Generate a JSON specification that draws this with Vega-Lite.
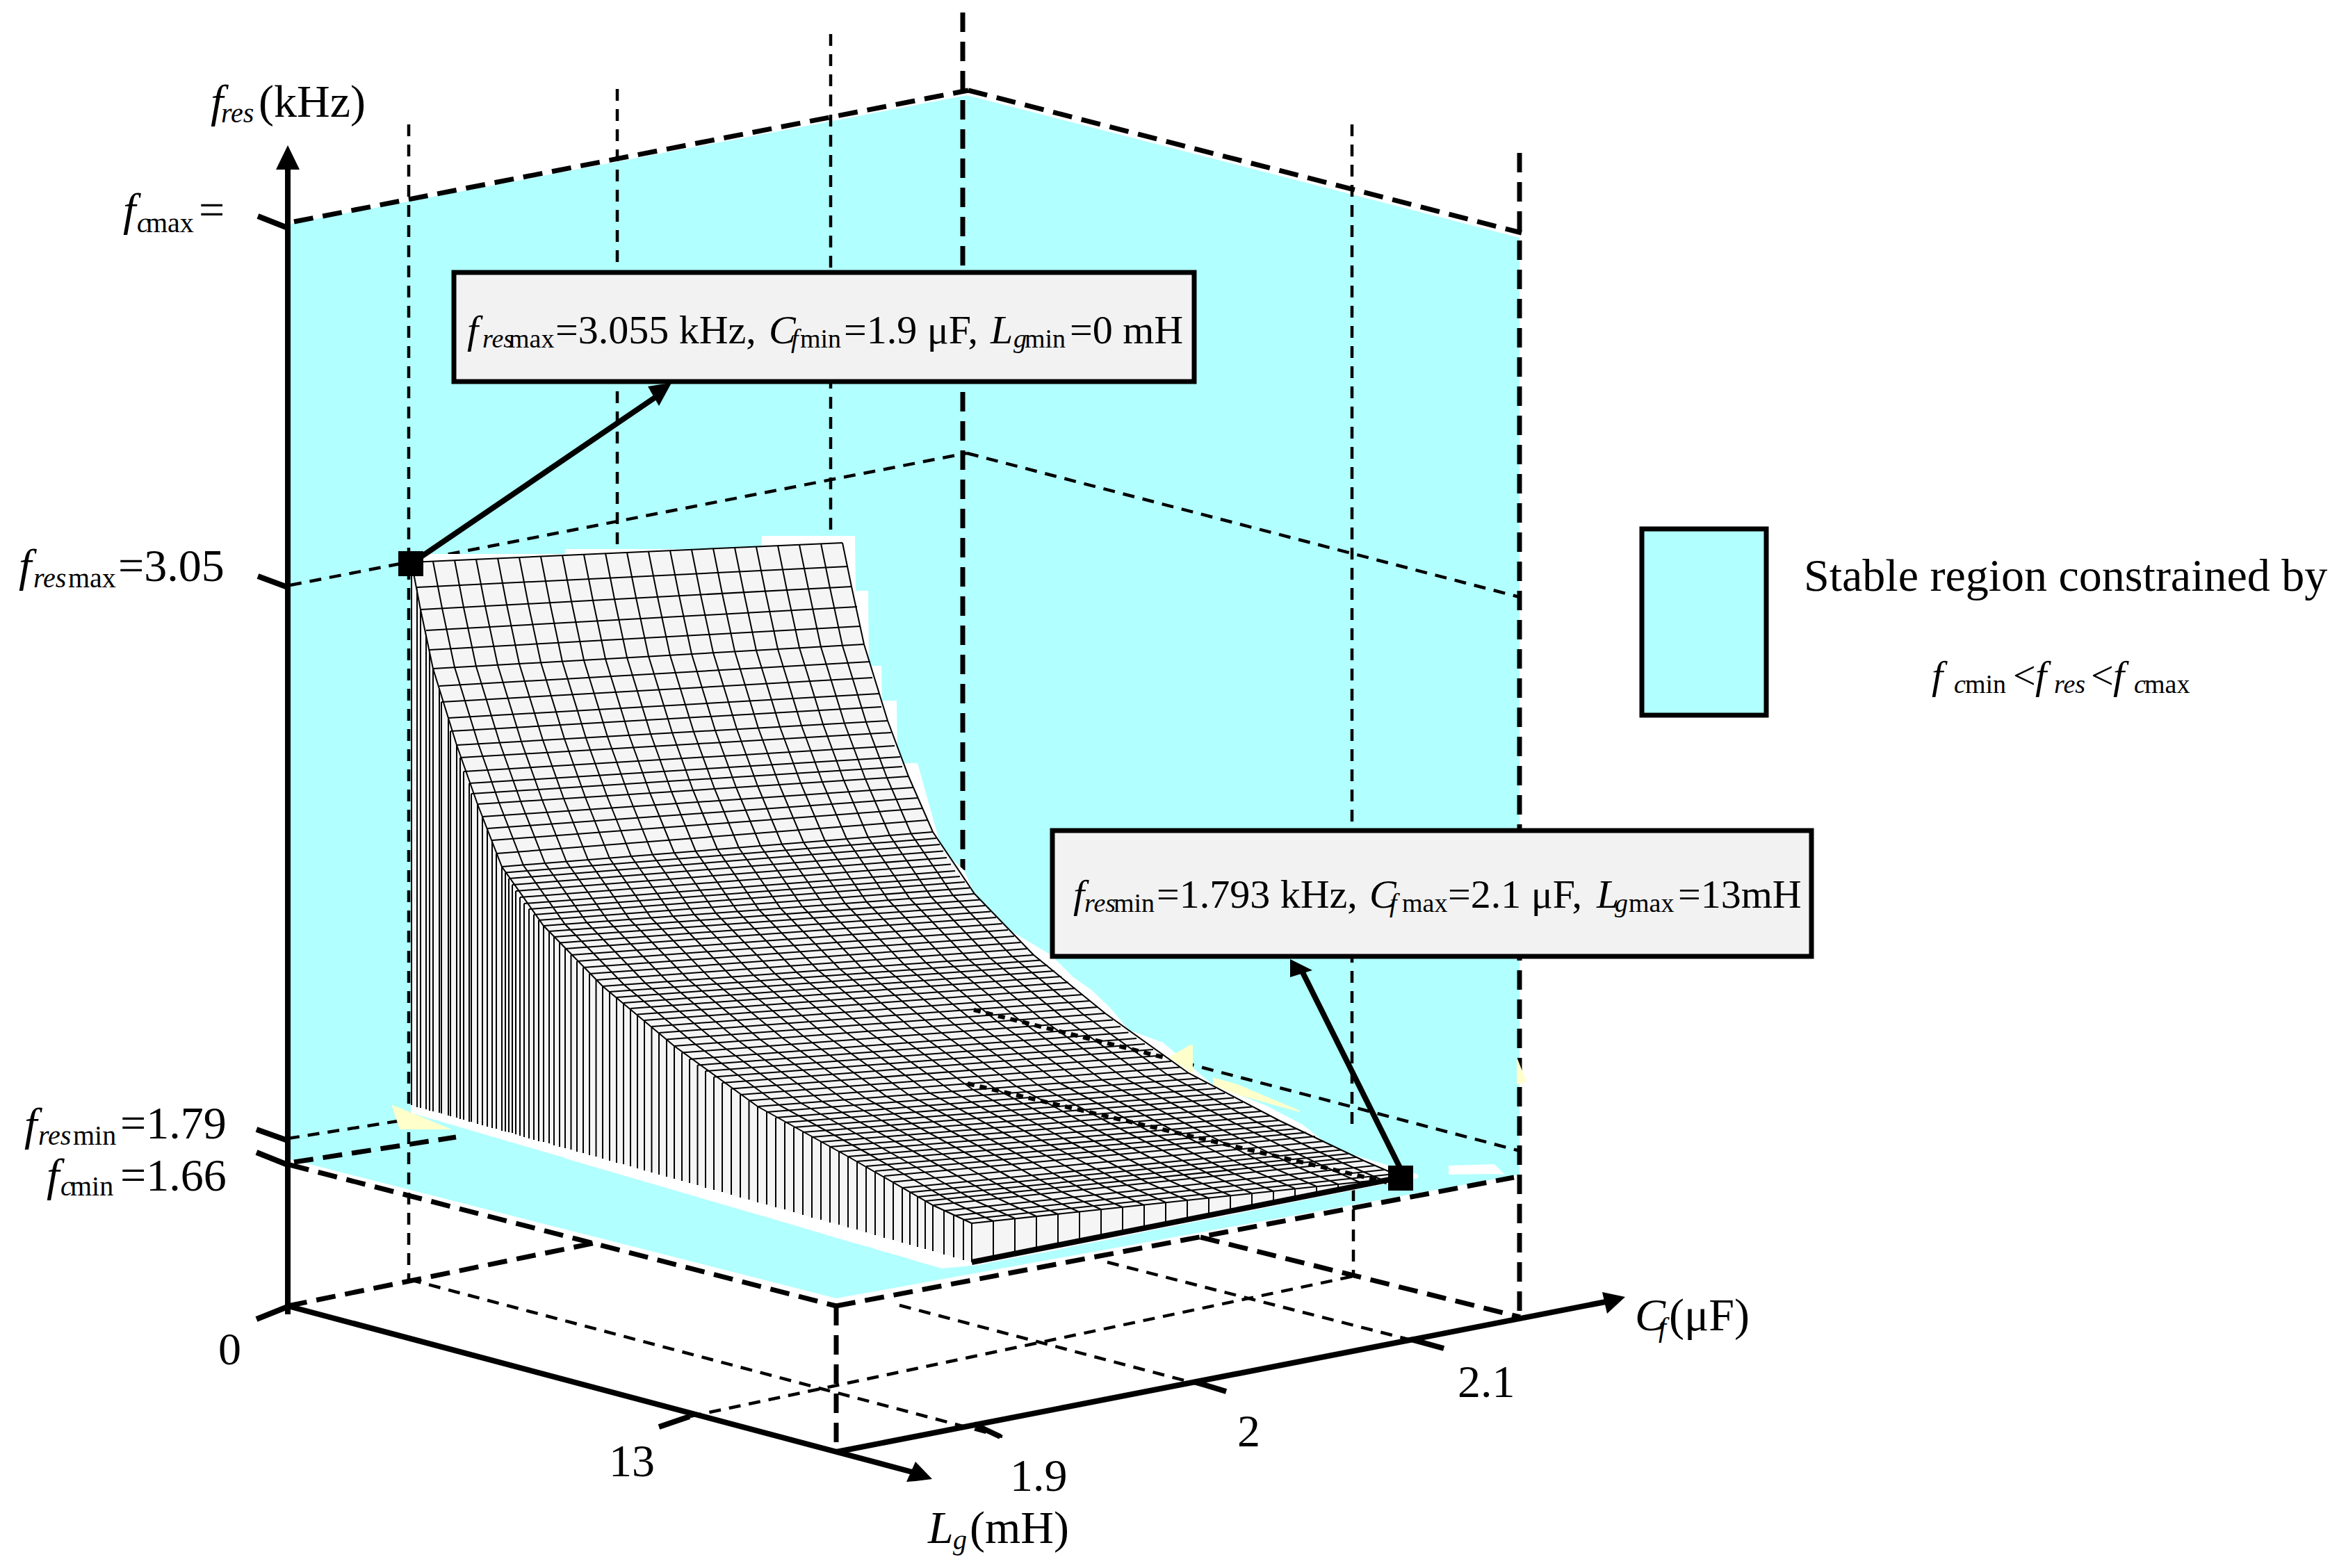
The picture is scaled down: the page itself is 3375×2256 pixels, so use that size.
{"$schema":"https://vega.github.io/schema/vega-lite/v6.json","width":3375,"height":2256,"padding":0,"autosize":{"type":"fit","contains":"padding"},"background":"#ffffff","config":{"view":{"stroke":null},"text":{"font":"Liberation Serif"}},
"datasets":{
"blue":[{"x":418,"y":322,"y2":1668},{"x":1203,"y":173,"y2":1868},{"x":1391,"y":137,"y2":1834},{"x":2186,"y":342,"y2":1690}],
"bold":[{"x":423,"y":319,"x2":1393,"y2":130},{"x":1393,"y":130,"x2":2189,"y2":335},{"x":1385,"y":18,"x2":1385,"y2":1252},{"x":2186,"y":220,"x2":2186,"y2":1895},{"x":417,"y":1676,"x2":1203,"y2":1879},{"x":1203,"y":1879,"x2":2178,"y2":1694},{"x":423,"y":1672,"x2":656,"y2":1636},{"x":414,"y":1879,"x2":862,"y2":1787},{"x":1727,"y":1780,"x2":2187,"y2":1895},{"x":1203,"y":1879,"x2":1203,"y2":2089}],
"thin":[{"x":417,"y":842,"x2":1391,"y2":652},{"x":1391,"y":652,"x2":2186,"y2":859},{"x":588,"y":179,"x2":588,"y2":1841},{"x":888,"y":128,"x2":888,"y2":789},{"x":1195,"y":49,"x2":1195,"y2":784},{"x":1945,"y":179,"x2":1945,"y2":1625},{"x":1947,"y":1711,"x2":1947,"y2":1836},{"x":414,"y":1638,"x2":585,"y2":1611},{"x":1673,"y":1521,"x2":2187,"y2":1656},{"x":589,"y":1841,"x2":1442,"y2":2067},{"x":992,"y":2038,"x2":1948,"y2":1836},{"x":1294,"y":1878,"x2":1764,"y2":2002},{"x":1593,"y":1816,"x2":2077,"y2":1940}],
"halo":[{"x":591,"y":797,"y2":1601},{"x":813,"y":797,"y2":1666},{"x":814,"y":790,"y2":1667},{"x":1095,"y":790,"y2":1749},{"x":1096,"y":771,"y2":1749},{"x":1230,"y":771,"y2":1789},{"x":1231,"y":850,"y2":1789},{"x":1249,"y":850,"y2":1794},{"x":1250,"y":958,"y2":1794},{"x":1268,"y":958,"y2":1800},{"x":1269,"y":1008,"y2":1800},{"x":1290,"y":1008,"y2":1806},{"x":1291,"y":1098,"y2":1806},{"x":1320,"y":1098,"y2":1815},{"x":1355,"y":1223,"y2":1825},{"x":1387,"y":1252,"y2":1822},{"x":1409,"y":1302,"y2":1820},{"x":1452,"y":1338,"y2":1811},{"x":1512,"y":1374,"y2":1800},{"x":1544,"y":1406,"y2":1793},{"x":1570,"y":1424,"y2":1788},{"x":1597,"y":1450,"y2":1783},{"x":1624,"y":1482,"y2":1777},{"x":1673,"y":1500,"y2":1767},{"x":1745,"y":1561,"y2":1753},{"x":1820,"y":1590,"y2":1738},{"x":1874,"y":1618,"y2":1727},{"x":1914,"y":1650,"y2":1719},{"x":1945,"y":1661,"y2":1713},{"x":1995,"y":1676,"y2":1703},{"x":2040,"y":1690,"y2":1695}],
"whitebit":[{"x":2084,"y":1677,"y2":1690},{"x":2150,"y":1675,"y2":1689},{"x":2165,"y":1690,"y2":1690}],
"yellow":[{"g":1,"x":564,"y":1590,"y2":1592},{"g":1,"x":575,"y":1594,"y2":1625},{"g":1,"x":650,"y":1625,"y2":1625},{"g":2,"x":1682,"y":1521,"y2":1521},{"g":2,"x":1713,"y":1503,"y2":1543},{"g":2,"x":1716,"y":1503,"y2":1545},{"g":3,"x":1745,"y":1550,"y2":1561},{"g":3,"x":1780,"y":1560,"y2":1575},{"g":3,"x":1870,"y":1598,"y2":1600},{"g":4,"x":2182,"y":1521,"y2":1561},{"g":4,"x":2196,"y":1556,"y2":1556}],
"rows":[{"x":592,"y":809,"x2":1212,"y2":781,"yb":1590},{"x":600,"y":845,"x2":1220,"y2":815,"yb":1593},{"x":605,"y":877,"x2":1225,"y2":844,"yb":1594},{"x":613,"y":907,"x2":1233,"y2":873,"yb":1596},{"x":618,"y":935,"x2":1238,"y2":901,"yb":1598},{"x":623,"y":962,"x2":1243,"y2":927,"yb":1599},{"x":632,"y":987,"x2":1252,"y2":952,"yb":1601},{"x":635,"y":1010,"x2":1255,"y2":975,"yb":1602},{"x":645,"y":1033,"x2":1265,"y2":998,"yb":1605},{"x":648,"y":1052,"x2":1268,"y2":1017,"yb":1606},{"x":657,"y":1072,"x2":1277,"y2":1037,"yb":1608},{"x":662,"y":1090,"x2":1282,"y2":1054,"yb":1610},{"x":667,"y":1110,"x2":1287,"y2":1073,"yb":1611},{"x":675,"y":1127,"x2":1295,"y2":1089,"yb":1614},{"x":678,"y":1142,"x2":1298,"y2":1103,"yb":1614},{"x":687,"y":1157,"x2":1307,"y2":1117,"yb":1617},{"x":694,"y":1175,"x2":1314,"y2":1133,"yb":1619},{"x":701,"y":1192,"x2":1321,"y2":1148,"yb":1621},{"x":708,"y":1209,"x2":1328,"y2":1163,"yb":1623},{"x":714,"y":1228,"x2":1334,"y2":1180,"yb":1624},{"x":722,"y":1247,"x2":1342,"y2":1197,"yb":1627},{"x":732,"y":1264,"x2":1352,"y2":1215,"yb":1629},{"x":742,"y":1282,"x2":1362,"y2":1234,"yb":1632},{"x":754,"y":1300,"x2":1374,"y2":1253,"yb":1636},{"x":768,"y":1316,"x2":1388,"y2":1269,"yb":1640},{"x":782,"y":1332,"x2":1402,"y2":1286,"yb":1643},{"x":797,"y":1348,"x2":1417,"y2":1303,"yb":1648},{"x":813,"y":1365,"x2":1433,"y2":1320,"yb":1652},{"x":830,"y":1383,"x2":1450,"y2":1338,"yb":1657},{"x":848,"y":1401,"x2":1468,"y2":1356,"yb":1662},{"x":867,"y":1419,"x2":1487,"y2":1374,"yb":1667},{"x":887,"y":1435,"x2":1507,"y2":1389,"yb":1673},{"x":907,"y":1451,"x2":1527,"y2":1405,"yb":1678},{"x":927,"y":1468,"x2":1547,"y2":1422,"yb":1684},{"x":948,"y":1486,"x2":1568,"y2":1440,"yb":1690},{"x":970,"y":1505,"x2":1590,"y2":1458,"yb":1696},{"x":992,"y":1524,"x2":1612,"y2":1477,"yb":1702},{"x":1015,"y":1541,"x2":1635,"y2":1494,"yb":1709},{"x":1039,"y":1558,"x2":1659,"y2":1510,"yb":1715},{"x":1065,"y":1575,"x2":1685,"y2":1527,"yb":1723},{"x":1090,"y":1592,"x2":1710,"y2":1544,"yb":1730},{"x":1116,"y":1608,"x2":1736,"y2":1559,"yb":1737},{"x":1142,"y":1622,"x2":1762,"y2":1573,"yb":1744},{"x":1168,"y":1636,"x2":1788,"y2":1586,"yb":1752},{"x":1194,"y":1650,"x2":1814,"y2":1599,"yb":1759},{"x":1220,"y":1664,"x2":1840,"y2":1612,"yb":1766},{"x":1246,"y":1678,"x2":1866,"y2":1624,"yb":1773},{"x":1272,"y":1692,"x2":1892,"y2":1635,"yb":1781},{"x":1298,"y":1709,"x2":1918,"y2":1649,"yb":1788},{"x":1320,"y":1722,"x2":1940,"y2":1660,"yb":1794},{"x":1342,"y":1734,"x2":1962,"y2":1670,"yb":1800},{"x":1358,"y":1742,"x2":1978,"y2":1677,"yb":1805},{"x":1372,"y":1749,"x2":1992,"y2":1683,"yb":1809},{"x":1386,"y":1755,"x2":2006,"y2":1689,"yb":1813},{"x":1398,"y":1760,"x2":2018,"y2":1694,"yb":1816},
{"x":727,"y":1255.5,"x2":1347,"y2":1206,"yb":1628},{"x":737,"y":1273,"x2":1357,"y2":1224.5,"yb":1630},{"x":748,"y":1291,"x2":1368,"y2":1243.5,"yb":1634},{"x":761,"y":1308,"x2":1381,"y2":1261,"yb":1638},{"x":775,"y":1324,"x2":1395,"y2":1277.5,"yb":1642},{"x":790,"y":1340,"x2":1410,"y2":1294.5,"yb":1645},{"x":805,"y":1356.5,"x2":1425,"y2":1311.5,"yb":1650},{"x":821.5,"y":1374,"x2":1441.5,"y2":1329,"yb":1654},{"x":839,"y":1392,"x2":1459,"y2":1347,"yb":1659},{"x":857.5,"y":1410,"x2":1477.5,"y2":1365,"yb":1664},{"x":877,"y":1427,"x2":1497,"y2":1381.5,"yb":1670},{"x":897,"y":1443,"x2":1517,"y2":1397,"yb":1675},{"x":917,"y":1459.5,"x2":1537,"y2":1413.5,"yb":1681},{"x":937.5,"y":1477,"x2":1557.5,"y2":1431,"yb":1687},{"x":959,"y":1495.5,"x2":1579,"y2":1449,"yb":1693},{"x":981,"y":1514.5,"x2":1601,"y2":1467.5,"yb":1699},{"x":1003.5,"y":1532.5,"x2":1623.5,"y2":1485.5,"yb":1705},{"x":1027,"y":1549.5,"x2":1647,"y2":1502,"yb":1712},{"x":1052,"y":1566.5,"x2":1672,"y2":1518.5,"yb":1719},{"x":1077.5,"y":1583.5,"x2":1697.5,"y2":1535.5,"yb":1726},{"x":1103,"y":1600,"x2":1723,"y2":1551.5,"yb":1733},{"x":1129,"y":1615,"x2":1749,"y2":1566,"yb":1740},{"x":1155,"y":1629,"x2":1775,"y2":1579.5,"yb":1748},{"x":1181,"y":1643,"x2":1801,"y2":1592.5,"yb":1755},{"x":1207,"y":1657,"x2":1827,"y2":1605.5,"yb":1762},{"x":1233,"y":1671,"x2":1853,"y2":1618,"yb":1769},{"x":1259,"y":1685,"x2":1879,"y2":1629.5,"yb":1777},{"x":1285,"y":1700.5,"x2":1905,"y2":1642,"yb":1784},{"x":1309,"y":1715.5,"x2":1929,"y2":1654.5,"yb":1791},{"x":1331,"y":1728,"x2":1951,"y2":1665,"yb":1797}],
"sideedge":[{"x":592,"y":809,"yb":1590},{"x":600,"y":845,"yb":1593},{"x":623,"y":962,"yb":1599},{"x":657,"y":1072,"yb":1608},{"x":687,"y":1157,"yb":1617},{"x":722,"y":1247,"yb":1627},{"x":782,"y":1332,"yb":1643},{"x":867,"y":1419,"yb":1667},{"x":970,"y":1505,"yb":1696},{"x":1090,"y":1592,"yb":1730},{"x":1220,"y":1664,"yb":1766},{"x":1342,"y":1734,"yb":1800},{"x":1398,"y":1760,"yb":1816}],
"surface":[{"x":592,"y":809,"y2":809},{"x":600,"y":808.6,"y2":845},{"x":623,"y":807.6,"y2":962},{"x":657,"y":806,"y2":1072},{"x":687,"y":805,"y2":1157},{"x":722,"y":803,"y2":1247},{"x":782,"y":800,"y2":1332},{"x":867,"y":797,"y2":1419},{"x":970,"y":792,"y2":1505},{"x":1090,"y":786.5,"y2":1592},{"x":1212,"y":781,"y2":1660},{"x":1220,"y":815,"y2":1664},{"x":1225,"y":844,"y2":1667},{"x":1243,"y":927,"y2":1677},{"x":1277,"y":1037,"y2":1695},{"x":1307,"y":1117,"y2":1714},{"x":1342,"y":1197,"y2":1734},{"x":1398,"y":1281,"y2":1760},{"x":1402,"y":1286,"y2":1760},{"x":1487,"y":1374,"y2":1750.5},{"x":1590,"y":1458,"y2":1740},{"x":1710,"y":1544,"y2":1727},{"x":1840,"y":1612,"y2":1713},{"x":1962,"y":1670,"y2":1700},{"x":2018,"y":1694,"y2":1694}],
"front":[{"x":1398,"y":1760,"y2":1816},{"x":1429,"y":1757,"y2":1810},{"x":1460,"y":1753,"y2":1804},{"x":1491,"y":1750,"y2":1798},{"x":1522,"y":1747,"y2":1792},{"x":1553,"y":1744,"y2":1785},{"x":1584,"y":1740,"y2":1779},{"x":1615,"y":1737,"y2":1773},{"x":1646,"y":1734,"y2":1767},{"x":1677,"y":1730,"y2":1761},{"x":1708,"y":1727,"y2":1755},{"x":1739,"y":1724,"y2":1749},{"x":1770,"y":1720,"y2":1743},{"x":1801,"y":1717,"y2":1737},{"x":1832,"y":1714,"y2":1731},{"x":1863,"y":1710,"y2":1724},{"x":1894,"y":1707,"y2":1718},{"x":1925,"y":1704,"y2":1712},{"x":1956,"y":1701,"y2":1706},{"x":1987,"y":1697,"y2":1700},{"x":2018,"y":1694,"y2":1694}],
"cols":[
{"c":0,"x":592,"y":809},{"c":0,"x":605,"y":877},{"c":0,"x":623,"y":962},{"c":0,"x":657,"y":1072},{"c":0,"x":687,"y":1157},{"c":0,"x":722,"y":1247},{"c":0,"x":782,"y":1332},{"c":0,"x":867,"y":1419},{"c":0,"x":970,"y":1505},{"c":0,"x":1090,"y":1592},{"c":0,"x":1220,"y":1664},{"c":0,"x":1342,"y":1734},{"c":0,"x":1398,"y":1760},
{"c":1,"x":623,"y":808},{"c":1,"x":636,"y":875},{"c":1,"x":654,"y":960},{"c":1,"x":688,"y":1070},{"c":1,"x":718,"y":1155},{"c":1,"x":753,"y":1245},{"c":1,"x":813,"y":1330},{"c":1,"x":898,"y":1417},{"c":1,"x":1001,"y":1503},{"c":1,"x":1121,"y":1590},{"c":1,"x":1251,"y":1661},{"c":1,"x":1373,"y":1731},{"c":1,"x":1429,"y":1757},
{"c":2,"x":654,"y":806},{"c":2,"x":667,"y":874},{"c":2,"x":685,"y":959},{"c":2,"x":719,"y":1069},{"c":2,"x":749,"y":1153},{"c":2,"x":784,"y":1242},{"c":2,"x":844,"y":1327},{"c":2,"x":929,"y":1415},{"c":2,"x":1032,"y":1500},{"c":2,"x":1152,"y":1587},{"c":2,"x":1282,"y":1659},{"c":2,"x":1404,"y":1728},{"c":2,"x":1460,"y":1753},
{"c":3,"x":685,"y":805},{"c":3,"x":698,"y":872},{"c":3,"x":716,"y":957},{"c":3,"x":750,"y":1067},{"c":3,"x":780,"y":1151},{"c":3,"x":815,"y":1240},{"c":3,"x":875,"y":1325},{"c":3,"x":960,"y":1412},{"c":3,"x":1063,"y":1498},{"c":3,"x":1183,"y":1585},{"c":3,"x":1313,"y":1656},{"c":3,"x":1435,"y":1724},{"c":3,"x":1491,"y":1750},
{"c":4,"x":716,"y":803},{"c":4,"x":729,"y":870},{"c":4,"x":747,"y":955},{"c":4,"x":781,"y":1065},{"c":4,"x":811,"y":1149},{"c":4,"x":846,"y":1237},{"c":4,"x":906,"y":1323},{"c":4,"x":991,"y":1410},{"c":4,"x":1094,"y":1496},{"c":4,"x":1214,"y":1582},{"c":4,"x":1344,"y":1654},{"c":4,"x":1466,"y":1721},{"c":4,"x":1522,"y":1747},
{"c":5,"x":747,"y":802},{"c":5,"x":760,"y":869},{"c":5,"x":778,"y":953},{"c":5,"x":812,"y":1063},{"c":5,"x":842,"y":1147},{"c":5,"x":877,"y":1235},{"c":5,"x":937,"y":1321},{"c":5,"x":1022,"y":1408},{"c":5,"x":1125,"y":1493},{"c":5,"x":1245,"y":1580},{"c":5,"x":1375,"y":1651},{"c":5,"x":1497,"y":1718},{"c":5,"x":1553,"y":1744},
{"c":6,"x":778,"y":801},{"c":6,"x":791,"y":867},{"c":6,"x":809,"y":952},{"c":6,"x":843,"y":1062},{"c":6,"x":873,"y":1145},{"c":6,"x":908,"y":1232},{"c":6,"x":968,"y":1318},{"c":6,"x":1053,"y":1406},{"c":6,"x":1156,"y":1491},{"c":6,"x":1276,"y":1578},{"c":6,"x":1406,"y":1648},{"c":6,"x":1528,"y":1715},{"c":6,"x":1584,"y":1740},
{"c":7,"x":809,"y":799},{"c":7,"x":822,"y":865},{"c":7,"x":840,"y":950},{"c":7,"x":874,"y":1060},{"c":7,"x":904,"y":1143},{"c":7,"x":939,"y":1230},{"c":7,"x":999,"y":1316},{"c":7,"x":1084,"y":1403},{"c":7,"x":1187,"y":1489},{"c":7,"x":1307,"y":1575},{"c":7,"x":1437,"y":1646},{"c":7,"x":1559,"y":1712},{"c":7,"x":1615,"y":1737},
{"c":8,"x":840,"y":798},{"c":8,"x":853,"y":864},{"c":8,"x":871,"y":948},{"c":8,"x":905,"y":1058},{"c":8,"x":935,"y":1141},{"c":8,"x":970,"y":1227},{"c":8,"x":1030,"y":1314},{"c":8,"x":1115,"y":1401},{"c":8,"x":1218,"y":1486},{"c":8,"x":1338,"y":1573},{"c":8,"x":1468,"y":1643},{"c":8,"x":1590,"y":1708},{"c":8,"x":1646,"y":1734},
{"c":9,"x":871,"y":796},{"c":9,"x":884,"y":862},{"c":9,"x":902,"y":946},{"c":9,"x":936,"y":1056},{"c":9,"x":966,"y":1139},{"c":9,"x":1001,"y":1225},{"c":9,"x":1061,"y":1311},{"c":9,"x":1146,"y":1399},{"c":9,"x":1249,"y":1484},{"c":9,"x":1369,"y":1570},{"c":9,"x":1499,"y":1641},{"c":9,"x":1621,"y":1705},{"c":9,"x":1677,"y":1730},
{"c":10,"x":902,"y":795},{"c":10,"x":915,"y":860},{"c":10,"x":933,"y":944},{"c":10,"x":967,"y":1054},{"c":10,"x":997,"y":1137},{"c":10,"x":1032,"y":1222},{"c":10,"x":1092,"y":1309},{"c":10,"x":1177,"y":1396},{"c":10,"x":1280,"y":1481},{"c":10,"x":1400,"y":1568},{"c":10,"x":1530,"y":1638},{"c":10,"x":1652,"y":1702},{"c":10,"x":1708,"y":1727},
{"c":11,"x":933,"y":794},{"c":11,"x":946,"y":859},{"c":11,"x":964,"y":943},{"c":11,"x":998,"y":1053},{"c":11,"x":1028,"y":1135},{"c":11,"x":1063,"y":1220},{"c":11,"x":1123,"y":1307},{"c":11,"x":1208,"y":1394},{"c":11,"x":1311,"y":1479},{"c":11,"x":1431,"y":1566},{"c":11,"x":1561,"y":1635},{"c":11,"x":1683,"y":1699},{"c":11,"x":1739,"y":1724},
{"c":12,"x":964,"y":792},{"c":12,"x":977,"y":857},{"c":12,"x":995,"y":941},{"c":12,"x":1029,"y":1051},{"c":12,"x":1059,"y":1133},{"c":12,"x":1094,"y":1217},{"c":12,"x":1154,"y":1304},{"c":12,"x":1239,"y":1392},{"c":12,"x":1342,"y":1477},{"c":12,"x":1462,"y":1563},{"c":12,"x":1592,"y":1633},{"c":12,"x":1714,"y":1696},{"c":12,"x":1770,"y":1720},
{"c":13,"x":995,"y":791},{"c":13,"x":1008,"y":856},{"c":13,"x":1026,"y":939},{"c":13,"x":1060,"y":1049},{"c":13,"x":1090,"y":1131},{"c":13,"x":1125,"y":1215},{"c":13,"x":1185,"y":1302},{"c":13,"x":1270,"y":1390},{"c":13,"x":1373,"y":1474},{"c":13,"x":1493,"y":1561},{"c":13,"x":1623,"y":1630},{"c":13,"x":1745,"y":1692},{"c":13,"x":1801,"y":1717},
{"c":14,"x":1026,"y":789},{"c":14,"x":1039,"y":854},{"c":14,"x":1057,"y":937},{"c":14,"x":1091,"y":1048},{"c":14,"x":1121,"y":1129},{"c":14,"x":1156,"y":1212},{"c":14,"x":1216,"y":1300},{"c":14,"x":1301,"y":1388},{"c":14,"x":1404,"y":1472},{"c":14,"x":1524,"y":1558},{"c":14,"x":1654,"y":1628},{"c":14,"x":1776,"y":1689},{"c":14,"x":1832,"y":1714},
{"c":15,"x":1057,"y":788},{"c":15,"x":1070,"y":852},{"c":15,"x":1088,"y":936},{"c":15,"x":1122,"y":1046},{"c":15,"x":1152,"y":1127},{"c":15,"x":1187,"y":1210},{"c":15,"x":1247,"y":1298},{"c":15,"x":1332,"y":1385},{"c":15,"x":1435,"y":1470},{"c":15,"x":1555,"y":1556},{"c":15,"x":1685,"y":1625},{"c":15,"x":1807,"y":1686},{"c":15,"x":1863,"y":1710},
{"c":16,"x":1088,"y":787},{"c":16,"x":1101,"y":851},{"c":16,"x":1119,"y":934},{"c":16,"x":1153,"y":1044},{"c":16,"x":1183,"y":1125},{"c":16,"x":1218,"y":1207},{"c":16,"x":1278,"y":1295},{"c":16,"x":1363,"y":1383},{"c":16,"x":1466,"y":1467},{"c":16,"x":1586,"y":1554},{"c":16,"x":1716,"y":1622},{"c":16,"x":1838,"y":1683},{"c":16,"x":1894,"y":1707},
{"c":17,"x":1119,"y":785},{"c":17,"x":1132,"y":849},{"c":17,"x":1150,"y":932},{"c":17,"x":1184,"y":1042},{"c":17,"x":1214,"y":1123},{"c":17,"x":1249,"y":1205},{"c":17,"x":1309,"y":1293},{"c":17,"x":1394,"y":1381},{"c":17,"x":1497,"y":1465},{"c":17,"x":1617,"y":1551},{"c":17,"x":1747,"y":1620},{"c":17,"x":1869,"y":1680},{"c":17,"x":1925,"y":1704},
{"c":18,"x":1150,"y":784},{"c":18,"x":1163,"y":847},{"c":18,"x":1181,"y":931},{"c":18,"x":1215,"y":1041},{"c":18,"x":1245,"y":1121},{"c":18,"x":1280,"y":1202},{"c":18,"x":1340,"y":1291},{"c":18,"x":1425,"y":1379},{"c":18,"x":1528,"y":1463},{"c":18,"x":1648,"y":1549},{"c":18,"x":1778,"y":1617},{"c":18,"x":1900,"y":1676},{"c":18,"x":1956,"y":1701},
{"c":19,"x":1181,"y":782},{"c":19,"x":1194,"y":846},{"c":19,"x":1212,"y":929},{"c":19,"x":1246,"y":1039},{"c":19,"x":1276,"y":1119},{"c":19,"x":1311,"y":1200},{"c":19,"x":1371,"y":1288},{"c":19,"x":1456,"y":1376},{"c":19,"x":1559,"y":1460},{"c":19,"x":1679,"y":1546},{"c":19,"x":1809,"y":1615},{"c":19,"x":1931,"y":1673},{"c":19,"x":1987,"y":1697},
{"c":20,"x":1212,"y":781},{"c":20,"x":1225,"y":844},{"c":20,"x":1243,"y":927},{"c":20,"x":1277,"y":1037},{"c":20,"x":1307,"y":1117},{"c":20,"x":1342,"y":1197},{"c":20,"x":1402,"y":1286},{"c":20,"x":1487,"y":1374},{"c":20,"x":1590,"y":1458},{"c":20,"x":1710,"y":1544},{"c":20,"x":1840,"y":1612},{"c":20,"x":1962,"y":1670},{"c":20,"x":2018,"y":1694}],
"solid":[{"x":414,"y":244,"x2":414,"y2":1891},{"x":414,"y":1879,"x2":1320,"y2":2120},{"x":1203,"y":2089,"x2":2310,"y2":1873},{"x":371,"y":311,"x2":414,"y2":328},{"x":371,"y":829,"x2":414,"y2":845},{"x":369,"y":1625,"x2":414,"y2":1641},{"x":369,"y":1658,"x2":414,"y2":1676},{"x":369,"y":1898,"x2":414,"y2":1880},{"x":948,"y":2053,"x2":992,"y2":2038},{"x":1401,"y":2049,"x2":1439,"y2":2067},{"x":1718,"y":1988,"x2":1764,"y2":2002},{"x":2030,"y":1927,"x2":2077,"y2":1940},{"x":600,"y":805,"x2":948,"y2":568},{"x":1872,"y":1395,"x2":2014,"y2":1680},{"x":1398,"y":1816,"x2":2015,"y2":1694}],
"dots":[{"x":1401,"y":1453,"x2":1673,"y2":1521},{"x":1392,"y":1559,"x2":1995,"y2":1701}],
"heads":[{"g":"y","x":397,"y":244,"y2":244},{"g":"y","x":414,"y":209,"y2":244},{"g":"y","x":431,"y":244,"y2":244},{"g":"l","x":1304,"y":2132,"y2":2132},{"g":"l","x":1317,"y":2103,"y2":2131},{"g":"l","x":1341,"y":2128,"y2":2128},{"g":"c","x":2305,"y":1859,"y2":1859},{"g":"c","x":2312,"y":1860.5,"y2":1890},{"g":"c","x":2338,"y":1866,"y2":1866},{"g":"u","x":932,"y":556,"y2":556},{"g":"u","x":948,"y":553.6,"y2":584},{"g":"u","x":966,"y":551,"y2":551},{"g":"d","x":1856,"y":1380,"y2":1406},{"g":"d","x":1888,"y":1396,"y2":1396}],
"callouts":[{"x":653,"y":392,"x2":1718,"y2":549},{"x":1514,"y":1195,"x2":2606,"y2":1376}],
"legendbox":[{"x":2362,"y":761,"x2":2541,"y2":1029}],
"markers":[{"x":573,"y":793,"x2":609,"y2":829},{"x":1997,"y":1677,"x2":2033,"y2":1713}],
"italic":[
{"t":"big","x":303,"y":168,"s":"f"},{"t":"sub","x":318,"y":176,"s":"res"},
{"t":"big","x":177,"y":324,"s":"f"},{"t":"sub","x":197,"y":334,"s":"c"},
{"t":"big","x":27,"y":836,"s":"f"},{"t":"sub","x":48,"y":845,"s":"res"},
{"t":"big","x":35,"y":1640,"s":"f"},{"t":"sub","x":55,"y":1647,"s":"res"},
{"t":"big","x":67,"y":1713,"s":"f"},{"t":"sub","x":87,"y":1720,"s":"c"},
{"t":"big","x":1335,"y":2220,"s":"L"},{"t":"sub","x":1371,"y":2229,"s":"g"},
{"t":"big","x":2352,"y":1914,"s":"C"},{"t":"sub","x":2386,"y":1923,"s":"f"},
{"t":"box","x":672,"y":494,"s":"f"},{"t":"boxsub","x":694,"y":500,"s":"res"},
{"t":"box","x":1106,"y":494,"s":"C"},{"t":"boxsub","x":1138,"y":500,"s":"f"},
{"t":"box","x":1425,"y":494,"s":"L"},{"t":"boxsub","x":1458,"y":500,"s":"g"},
{"t":"box","x":1544,"y":1306,"s":"f"},{"t":"boxsub","x":1560,"y":1312,"s":"res"},
{"t":"box","x":1970,"y":1306,"s":"C"},{"t":"boxsub","x":1999,"y":1312,"s":"f"},
{"t":"box","x":2297,"y":1306,"s":"L"},{"t":"boxsub","x":2323,"y":1312,"s":"g"},
{"t":"box","x":2779,"y":991,"s":"f"},{"t":"boxsub","x":2811,"y":997,"s":"c"},
{"t":"box","x":2928,"y":991,"s":"f"},{"t":"boxsub","x":2955,"y":997,"s":"res"},
{"t":"box","x":3040,"y":991,"s":"f"},{"t":"boxsub","x":3070,"y":997,"s":"c"}],
"roman":[
{"t":"big","x":372,"y":168,"s":"(kHz)"},
{"t":"sub","x":210,"y":334,"s":"max"},{"t":"big","x":286,"y":324,"s":"="},
{"t":"sub","x":98,"y":845,"s":"max"},{"t":"big","x":170,"y":836,"s":"=3.05"},
{"t":"sub","x":105,"y":1647,"s":"min"},{"t":"big","x":173,"y":1638,"s":"=1.79"},
{"t":"sub","x":101,"y":1720,"s":"min"},{"t":"big","x":173,"y":1713,"s":"=1.66"},
{"t":"big","x":314,"y":1963,"s":"0"},{"t":"big","x":876,"y":2124,"s":"13"},{"t":"big","x":1453,"y":2145,"s":"1.9"},
{"t":"big","x":1395,"y":2220,"s":"(mH)"},{"t":"big","x":1780,"y":2081,"s":"2"},{"t":"big","x":2097,"y":2010,"s":"2.1"},
{"t":"big","x":2401,"y":1914,"s":"(μF)"},
{"t":"boxsub","x":732,"y":500,"s":"max"},{"t":"box","x":799,"y":494,"s":"=3.055 kHz,"},
{"t":"boxsub","x":1151,"y":500,"s":"min"},{"t":"box","x":1214,"y":494,"s":"=1.9 μF,"},
{"t":"boxsub","x":1474,"y":500,"s":"min"},{"t":"box","x":1539,"y":494,"s":"=0 mH"},
{"t":"boxsub","x":1602,"y":1312,"s":"min"},{"t":"box","x":1664,"y":1306,"s":"=1.793 kHz,"},
{"t":"boxsub","x":2017,"y":1312,"s":"max"},{"t":"box","x":2083,"y":1306,"s":"=2.1 μF,"},
{"t":"boxsub","x":2343,"y":1312,"s":"max"},{"t":"box","x":2414,"y":1306,"s":"=13mH"},
{"t":"big","x":2595,"y":850,"s":"Stable region constrained by"},
{"t":"boxsub","x":2827,"y":997,"s":"min"},{"t":"box","x":2896,"y":991,"s":"<"},{"t":"box","x":3008,"y":991,"s":"<"},{"t":"boxsub","x":3085,"y":997,"s":"max"}]
},
"encoding":{"x":{"field":"x","type":"quantitative","axis":null,"scale":{"domain":[0,3375],"nice":false,"zero":false}},"y":{"field":"y","type":"quantitative","axis":null,"scale":{"domain":[2256,0],"nice":false,"zero":false}}},
"layer":[
{"data":{"name":"blue"},"mark":{"type":"area","fill":"#b2ffff","orient":"vertical"},"encoding":{"y2":{"field":"y2"}}},
{"data":{"name":"bold"},"mark":{"type":"rule","stroke":"#000000","strokeWidth":7,"strokeDash":[28,14]},"encoding":{"x2":{"field":"x2"},"y2":{"field":"y2"}}},
{"data":{"name":"thin"},"mark":{"type":"rule","stroke":"#000000","strokeWidth":4.5,"strokeDash":[17,12]},"encoding":{"x2":{"field":"x2"},"y2":{"field":"y2"}}},
{"data":{"name":"halo"},"mark":{"type":"area","fill":"#ffffff","orient":"vertical"},"encoding":{"y2":{"field":"y2"}}},
{"data":{"name":"whitebit"},"mark":{"type":"area","fill":"#ffffff","orient":"vertical"},"encoding":{"y2":{"field":"y2"}}},
{"data":{"name":"yellow"},"mark":{"type":"area","fill":"#ffffcc","orient":"vertical"},"encoding":{"y2":{"field":"y2"},"detail":{"field":"g"}}},
{"data":{"name":"sideedge"},"mark":{"type":"area","fill":"#f5f5f5","orient":"vertical"},"encoding":{"y2":{"field":"yb"}}},
{"data":{"name":"front"},"mark":{"type":"area","fill":"#f5f5f5","orient":"vertical"},"encoding":{"y2":{"field":"y2"}}},
{"data":{"name":"rows"},"mark":{"type":"rule","stroke":"#000000","strokeWidth":2},"encoding":{"y2":{"field":"yb"}}},
{"data":{"name":"front"},"mark":{"type":"rule","stroke":"#000000","strokeWidth":2},"encoding":{"y2":{"field":"y2"}}},
{"data":{"name":"surface"},"mark":{"type":"area","fill":"#f5f5f5","orient":"vertical"},"encoding":{"y2":{"field":"y2"}}},
{"data":{"name":"rows"},"mark":{"type":"rule","stroke":"#000000","strokeWidth":2},"encoding":{"x2":{"field":"x2"},"y2":{"field":"y2"}}},
{"data":{"name":"cols"},"mark":{"type":"line","stroke":"#000000","strokeWidth":2},"encoding":{"detail":{"field":"c"}}},
{"data":{"name":"dots"},"mark":{"type":"rule","stroke":"#000000","strokeWidth":6,"strokeDash":[10,8]},"encoding":{"x2":{"field":"x2"},"y2":{"field":"y2"}}},
{"data":{"name":"callouts"},"mark":{"type":"rect","fill":"#f2f2f2","stroke":"#000000","strokeWidth":7},"encoding":{"x2":{"field":"x2"},"y2":{"field":"y2"}}},
{"data":{"name":"legendbox"},"mark":{"type":"rect","fill":"#b2ffff","stroke":"#000000","strokeWidth":7},"encoding":{"x2":{"field":"x2"},"y2":{"field":"y2"}}},
{"data":{"name":"solid"},"mark":{"type":"rule","stroke":"#000000","strokeWidth":8},"encoding":{"x2":{"field":"x2"},"y2":{"field":"y2"}}},
{"data":{"name":"heads"},"mark":{"type":"area","fill":"#000000","orient":"vertical"},"encoding":{"y2":{"field":"y2"},"detail":{"field":"g"}}},
{"data":{"name":"markers"},"mark":{"type":"rect","fill":"#000000"},"encoding":{"x2":{"field":"x2"},"y2":{"field":"y2"}}},
{"data":{"name":"italic"},"mark":{"type":"text","font":"Liberation Serif","fontStyle":"italic","align":"left","baseline":"alphabetic","fill":"#000000"},"encoding":{"text":{"field":"s"},"size":{"field":"t","type":"nominal","legend":null,"scale":{"type":"ordinal","domain":["big","box","sub","boxsub"],"range":[66,58,40,38]}}}},
{"data":{"name":"roman"},"mark":{"type":"text","font":"Liberation Serif","align":"left","baseline":"alphabetic","fill":"#000000"},"encoding":{"text":{"field":"s"},"size":{"field":"t","type":"nominal","legend":null,"scale":{"type":"ordinal","domain":["big","box","sub","boxsub"],"range":[66,58,40,38]}}}}
]}
